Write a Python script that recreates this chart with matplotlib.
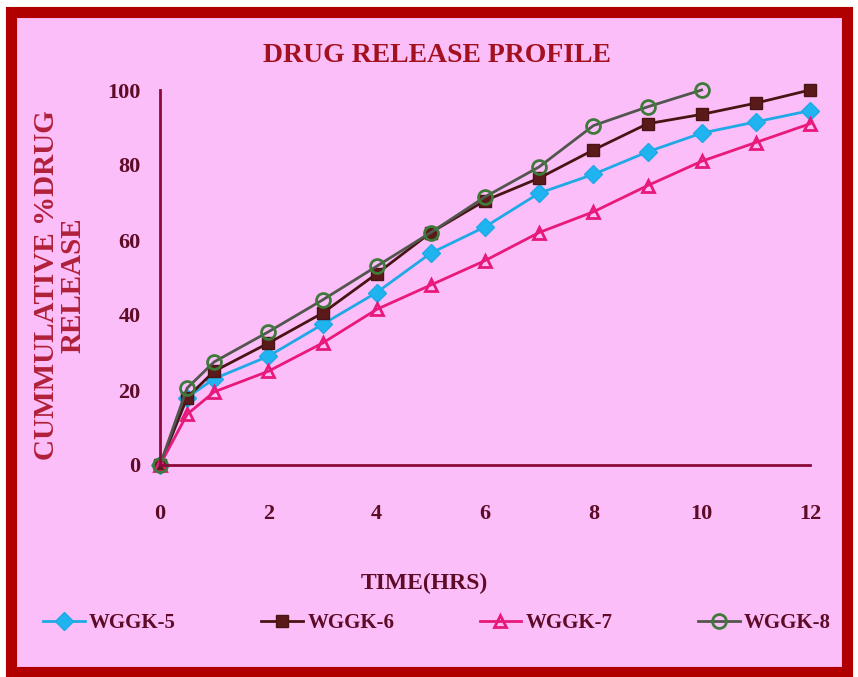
import matplotlib.pyplot as plt
from matplotlib.patches import Rectangle

time_hrs = [0, 0.5, 1, 2, 3, 4, 5, 6, 7, 8, 9, 10, 11, 12]
wggk5 = [0, 18, 23, 29, 37.5, 46, 56.5, 63.5, 72.5, 77.5, 83.5, 88.5, 91.5, 94.5]
wggk6 = [0, 18, 25, 32.5, 40.5, 51, 62, 70.5, 76.5, 84, 91, 93.5, 96.5, 100]
wggk7 = [0, 13.5, 19.5, 25, 32.5, 41.5, 48, 54.5, 62, 67.5, 74.5, 81, 86, 91]
time8 = [0, 0.5, 1, 2, 3, 4, 5, 6, 7, 8, 9, 10]
wggk8 = [0, 20.5, 27.5, 35.5, 44, 53, 62, 71.5, 79.5, 90.5, 95.5, 100]

BG = '#fcbef8'
MAROON = '#5e0b27'
RED = '#a3101f'

plt.rcParams['font.family'] = ['Liberation Serif', 'DejaVu Serif']
plt.rcParams['font.weight'] = 'bold'

fig = plt.figure(figsize=(8.58, 6.77), dpi=100)
fig.patch.set_facecolor('white')
# pink panel with dark red frame, kept behind the axes
fig.patches.append(Rectangle((0.0125, 0.0075), 0.975, 0.975, transform=fig.transFigure,
                             facecolor=BG, edgecolor='#b00000', linewidth=8, zorder=-5))

ax = fig.add_axes([160/858, 1-465/677, 650/858, 375/677])
ax.patch.set_alpha(0)

ax.plot(time_hrs, wggk5, color='#1fa9e6', lw=2, marker='D', ms=9,
        mfc='#1fb4f0', mec='#1fa9e6', label='WGGK-5', clip_on=False)
ax.plot(time_hrs, wggk6, color='#4a1414', lw=2, marker='s', ms=8,
        mfc='#5a1a1a', mec='#4a1414', label='WGGK-6', clip_on=False)
ax.plot(time_hrs, wggk7, color='#e8197a', lw=2, marker='^', ms=9,
        mfc='none', mec='#e8197a', mew=2, label='WGGK-7', clip_on=False)
ax.plot(time8, wggk8, color='#52564e', lw=2, marker='o', ms=10,
        mfc='none', mec='#3f7a3a', mew=2, label='WGGK-8', clip_on=False)

ax.set_xlim(0, 12)
ax.set_ylim(0, 100)
ax.set_xticks([0, 2, 4, 6, 8, 10, 12])
ax.set_yticks([0, 20, 40, 60, 80, 100])
for s in ['top', 'right']:
    ax.spines[s].set_visible(False)
for s in ['left', 'bottom']:
    ax.spines[s].set_color('#8b0a3a')
    ax.spines[s].set_linewidth(2)
ax.tick_params(axis='both', length=0, labelsize=16, labelcolor=MAROON)
ax.tick_params(axis='x', pad=28)
ax.tick_params(axis='y', pad=14)

fig.text(437/858, 1-55/677, 'DRUG RELEASE PROFILE', ha='center', va='center',
         fontsize=20, color=RED, fontweight='bold')
fig.text(424/858, 1-583/677, 'TIME(HRS)', ha='center', va='center',
         fontsize=17, color=MAROON, fontweight='bold')
fig.text(60/858, 1-285/677, 'CUMMULATIVE %DRUG\nRELEASE', ha='center', va='center',
         rotation=90, fontsize=21, color='#b0203a', fontweight='bold', linespacing=1.0)

fig.legend(loc='center', bbox_to_anchor=(437/858, 1-623/677), ncol=4, frameon=False,
           fontsize=15, labelcolor=MAROON, handlelength=2.0, handletextpad=0.2,
           columnspacing=4.1)

fig.savefig('out.png', dpi=100, facecolor=fig.get_facecolor())
